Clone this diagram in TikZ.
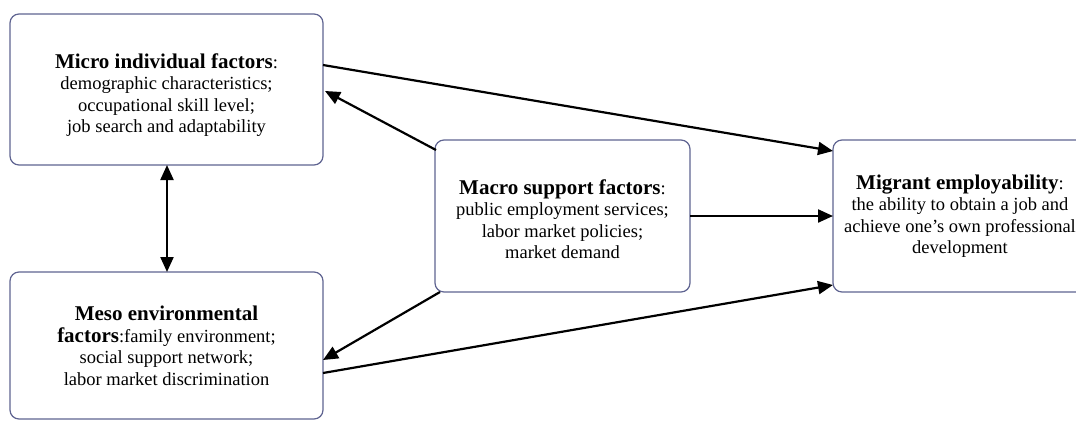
\documentclass[tikz,border=0pt]{standalone}
\usepackage{fontspec}
\setmainfont{Liberation Serif}
\usetikzlibrary{arrows.meta}
\definecolor{boxline}{RGB}{95,100,145}
\newcommand{\ttl}[1]{\textbf{\fontsize{21}{21.5}\selectfont #1}}
\begin{document}
\begin{tikzpicture}[x=1pt,y=-1pt,
  box/.style={draw=boxline,line width=1.2pt,rounded corners=9pt,fill=white},
  txt/.style={align=center,font=\fontsize{18.5}{21.5}\selectfont},
  conn/.style={line width=2.2pt,-{Triangle[length=15pt,width=13pt]}},
  dconn/.style={line width=2.2pt,{Triangle[length=15pt,width=13pt]}-{Triangle[length=15pt,width=13pt]}}]
\useasboundingbox (0,0) rectangle (1076,421);
\draw[box] (10,14) rectangle (323,165);
\node[txt] (micro) at (166.5,95) {\ttl{Micro individual factors}:\\demographic characteristics;\\occupational skill level;\\job search and adaptability};
\draw[box] (10,272) rectangle (323,419);
\node[txt] (meso) at (166.5,346) {\ttl{Meso environmental}\\\ttl{factors}:family environment;\\social support network;\\labor market discrimination};
\draw[box] (435,140) rectangle (690,292);
\node[txt] (macro) at (562.5,219) {\ttl{Macro support factors}:\\public employment services;\\labor market policies;\\market demand};
\draw[box] (833,140) rectangle (1090,292);
\node[txt] (mig) at (960,216) {\ttl{Migrant employability}:\\the ability to obtain a job and\\achieve one's own professional\\development};
\coordinate (a1) at (323,65);
\coordinate (a2) at (833,151);
\coordinate (b1) at (436,150);
\coordinate (b2) at (325,91);
\coordinate (c1) at (167,165);
\coordinate (c2) at (167,272);
\coordinate (d1) at (440,292);
\coordinate (d2) at (323,360);
\coordinate (e1) at (690,216);
\coordinate (e2) at (833,216);
\coordinate (f1) at (323,373);
\coordinate (f2) at (833,285);
\draw[conn] (a1) -- (a2);
\draw[conn] (b1) -- (b2);
\draw[dconn] (c1) -- (c2);
\draw[conn] (d1) -- (d2);
\draw[conn] (e1) -- (e2);
\draw[conn] (f1) -- (f2);
\end{tikzpicture}
\end{document}
